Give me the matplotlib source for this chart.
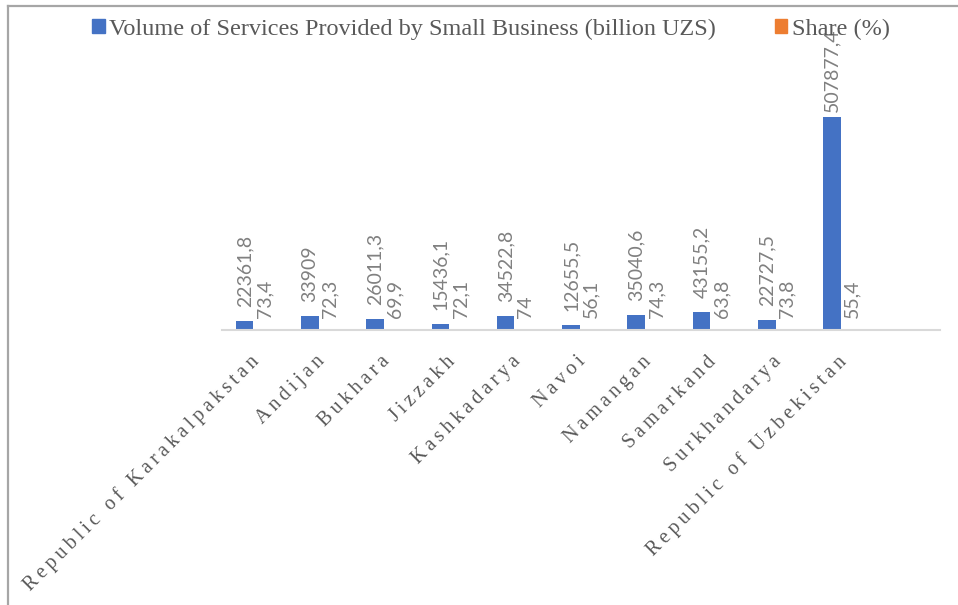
import matplotlib.pyplot as plt
from matplotlib.lines import Line2D
from matplotlib.patches import Patch

regions = ["Republic of Karakalpakstan", "Andijan", "Bukhara", "Jizzakh", "Kashkadarya",
           "Navoi", "Namangan", "Samarkand", "Surkhandarya", "Republic of Uzbekistan"]
volume = [22361.8, 33909, 26011.3, 15436.1, 34522.8, 12655.5, 35040.6, 43155.2, 22727.5, 507877.4]
share = [73.4, 72.3, 69.9, 72.1, 74, 56.1, 74.3, 63.8, 73.8, 55.4]

blue = "#4472C4"
orange = "#ED7D31"
label_gray = "#808080"
text_gray = "#595959"


def fmt(v):
    return format(v, ".10g").replace(".", ",")


def spaced(s):
    # wide letter spacing like the original axis labels (thin spaces between letters)
    return "\u2009".join(list(s))


fig = plt.figure(figsize=(9.58, 6.05), dpi=100)
ax = fig.add_axes([222 / 958, 1 - 330 / 605, 718 / 958, 294 / 605])

x = list(range(len(regions)))
w = 0.27
off = 0.155
xb = [i - off for i in x]
xo = [i + off for i in x]
ax.bar(xb, volume, width=w, color=blue, zorder=2)
ax.bar(xo, share, width=w, color=orange, zorder=2)

for xi, v in zip(xb, volume):
    # the tallest bar's label sits closer to the bar (pushed down by the chart top)
    gap = 5 if v == max(volume) else 14
    ax.annotate(fmt(v), xy=(xi, v), xytext=(0, gap), textcoords="offset pixels",
                rotation=90, ha="center", va="bottom", color=label_gray,
                fontsize=14, family="Lato")
for xi, v in zip(xo, share):
    ax.annotate(fmt(v), xy=(xi, v), xytext=(0, 12), textcoords="offset pixels",
                rotation=90, ha="center", va="bottom", color=label_gray,
                fontsize=14, family="Lato")

for i, name in enumerate(regions):
    ax.annotate(spaced(name), xy=(i, 0), xytext=(2, -29), textcoords="offset pixels",
                rotation=45, rotation_mode="anchor", ha="right", va="center",
                color=text_gray, fontsize=14.5, family=["Liberation Serif", "DejaVu Serif"])

# one empty slot at the right end, as in the original
ax.set_xlim(-0.5, len(regions) + 0.5)
ax.set_ylim(0, 700000)
ax.set_xticks([])
ax.set_yticks([])
for side in ["top", "right", "left"]:
    ax.spines[side].set_visible(False)
ax.spines["bottom"].set_color("#d9d9d9")
ax.spines["bottom"].set_linewidth(1.5)

handles = [Patch(color=blue, label="Volume of Services Provided by Small Business (billion UZS)"),
           Patch(color=orange, label="Share (%)")]
leg = fig.legend(handles=handles, loc="center", bbox_to_anchor=(491 / 958, 1 - 29 / 605),
                 ncol=2, frameon=False, handlelength=0.5, handleheight=0.5,
                 handletextpad=0.2, columnspacing=2.4,
                 prop={"family": "Liberation Serif", "size": 17.5})
for t in leg.get_texts():
    t.set_color(text_gray)

# outer frame lines (top and left edges visible in the original)
fig.add_artist(Line2D([8 / 958, 1], [1 - 6 / 605, 1 - 6 / 605], color="#a6a6a6", lw=1.6))
fig.add_artist(Line2D([8 / 958, 8 / 958], [0, 1 - 6 / 605], color="#a6a6a6", lw=1.6))

fig.savefig("out.png", dpi=100)
